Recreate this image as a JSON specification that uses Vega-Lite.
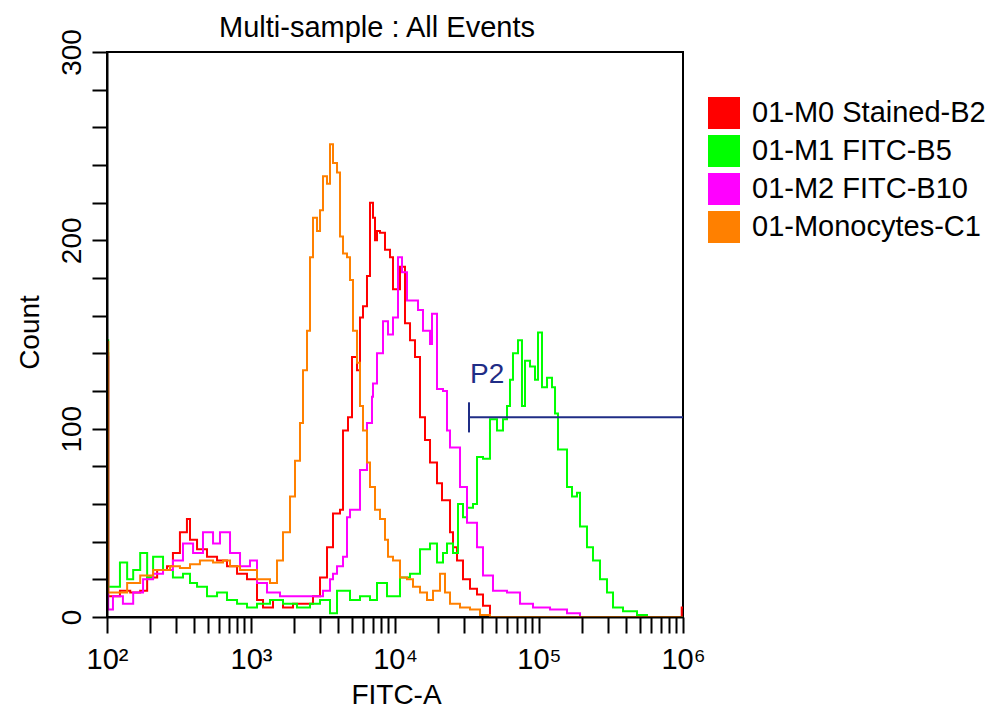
{
  "$schema": "https://vega.github.io/schema/vega-lite/v6.json",
  "width": 576,
  "height": 565,
  "autosize": "none",
  "padding": {"left": 107, "top": 52, "right": 315, "bottom": 94},
  "background": "white",
  "title": {"text": "Multi-sample : All Events", "fontSize": 29, "font": "Liberation Sans", "fontWeight": "normal", "color": "black", "anchor": "middle", "frame": "group", "dx": -18, "offset": 0, "dy": 37, "baseline": "alphabetic"},
  "config": {
    "view": {"stroke": "black", "strokeWidth": 2},
    "font": "Liberation Sans"
  },
  "datasets": {
    "hist": [
      {"sample": "01-M0 Stained-B2", "fitc": 100, "count": 140},
      {"sample": "01-M0 Stained-B2", "fitc": 102, "count": 11},
      {"sample": "01-M0 Stained-B2", "fitc": 105, "count": 11},
      {"sample": "01-M0 Stained-B2", "fitc": 123, "count": 14},
      {"sample": "01-M0 Stained-B2", "fitc": 145, "count": 13},
      {"sample": "01-M0 Stained-B2", "fitc": 170, "count": 14},
      {"sample": "01-M0 Stained-B2", "fitc": 190, "count": 21},
      {"sample": "01-M0 Stained-B2", "fitc": 223, "count": 25},
      {"sample": "01-M0 Stained-B2", "fitc": 261, "count": 27},
      {"sample": "01-M0 Stained-B2", "fitc": 287, "count": 34},
      {"sample": "01-M0 Stained-B2", "fitc": 321, "count": 45},
      {"sample": "01-M0 Stained-B2", "fitc": 359, "count": 52},
      {"sample": "01-M0 Stained-B2", "fitc": 377, "count": 41},
      {"sample": "01-M0 Stained-B2", "fitc": 422, "count": 36},
      {"sample": "01-M0 Stained-B2", "fitc": 495, "count": 32},
      {"sample": "01-M0 Stained-B2", "fitc": 581, "count": 30},
      {"sample": "01-M0 Stained-B2", "fitc": 681, "count": 27},
      {"sample": "01-M0 Stained-B2", "fitc": 800, "count": 23},
      {"sample": "01-M0 Stained-B2", "fitc": 938, "count": 20},
      {"sample": "01-M0 Stained-B2", "fitc": 1101, "count": 9},
      {"sample": "01-M0 Stained-B2", "fitc": 1212, "count": 5},
      {"sample": "01-M0 Stained-B2", "fitc": 1422, "count": 9},
      {"sample": "01-M0 Stained-B2", "fitc": 1668, "count": 5},
      {"sample": "01-M0 Stained-B2", "fitc": 1957, "count": 7},
      {"sample": "01-M0 Stained-B2", "fitc": 2695, "count": 11},
      {"sample": "01-M0 Stained-B2", "fitc": 3015, "count": 21},
      {"sample": "01-M0 Stained-B2", "fitc": 3372, "count": 37},
      {"sample": "01-M0 Stained-B2", "fitc": 3711, "count": 55},
      {"sample": "01-M0 Stained-B2", "fitc": 4151, "count": 57},
      {"sample": "01-M0 Stained-B2", "fitc": 4355, "count": 99},
      {"sample": "01-M0 Stained-B2", "fitc": 4716, "count": 106},
      {"sample": "01-M0 Stained-B2", "fitc": 5028, "count": 138},
      {"sample": "01-M0 Stained-B2", "fitc": 5446, "count": 131},
      {"sample": "01-M0 Stained-B2", "fitc": 5714, "count": 159},
      {"sample": "01-M0 Stained-B2", "fitc": 5995, "count": 165},
      {"sample": "01-M0 Stained-B2", "fitc": 6390, "count": 181},
      {"sample": "01-M0 Stained-B2", "fitc": 6705, "count": 220},
      {"sample": "01-M0 Stained-B2", "fitc": 7034, "count": 212},
      {"sample": "01-M0 Stained-B2", "fitc": 7263, "count": 200},
      {"sample": "01-M0 Stained-B2", "fitc": 7499, "count": 205},
      {"sample": "01-M0 Stained-B2", "fitc": 7868, "count": 204},
      {"sample": "01-M0 Stained-B2", "fitc": 8522, "count": 195},
      {"sample": "01-M0 Stained-B2", "fitc": 9233, "count": 191},
      {"sample": "01-M0 Stained-B2", "fitc": 9685, "count": 174},
      {"sample": "01-M0 Stained-B2", "fitc": 10832, "count": 186},
      {"sample": "01-M0 Stained-B2", "fitc": 11733, "count": 156},
      {"sample": "01-M0 Stained-B2", "fitc": 12714, "count": 147},
      {"sample": "01-M0 Stained-B2", "fitc": 13768, "count": 138},
      {"sample": "01-M0 Stained-B2", "fitc": 14915, "count": 106},
      {"sample": "01-M0 Stained-B2", "fitc": 16156, "count": 94},
      {"sample": "01-M0 Stained-B2", "fitc": 17504, "count": 82},
      {"sample": "01-M0 Stained-B2", "fitc": 19573, "count": 71},
      {"sample": "01-M0 Stained-B2", "fitc": 21203, "count": 62},
      {"sample": "01-M0 Stained-B2", "fitc": 24097, "count": 45},
      {"sample": "01-M0 Stained-B2", "fitc": 25283, "count": 37},
      {"sample": "01-M0 Stained-B2", "fitc": 26961, "count": 30},
      {"sample": "01-M0 Stained-B2", "fitc": 29660, "count": 20},
      {"sample": "01-M0 Stained-B2", "fitc": 33177, "count": 15},
      {"sample": "01-M0 Stained-B2", "fitc": 37113, "count": 12},
      {"sample": "01-M0 Stained-B2", "fitc": 40840, "count": 6},
      {"sample": "01-M0 Stained-B2", "fitc": 45660, "count": 0},
      {"sample": "01-M0 Stained-B2", "fitc": 980000, "count": 5},
      {"sample": "01-M0 Stained-B2", "fitc": 1000000, "count": 5},

      {"sample": "01-M1 FITC-B5", "fitc": 100, "count": 147},
      {"sample": "01-M1 FITC-B5", "fitc": 102, "count": 16},
      {"sample": "01-M1 FITC-B5", "fitc": 123, "count": 29},
      {"sample": "01-M1 FITC-B5", "fitc": 138, "count": 20},
      {"sample": "01-M1 FITC-B5", "fitc": 152, "count": 25},
      {"sample": "01-M1 FITC-B5", "fitc": 170, "count": 34},
      {"sample": "01-M1 FITC-B5", "fitc": 190, "count": 21},
      {"sample": "01-M1 FITC-B5", "fitc": 209, "count": 32},
      {"sample": "01-M1 FITC-B5", "fitc": 245, "count": 25},
      {"sample": "01-M1 FITC-B5", "fitc": 287, "count": 21},
      {"sample": "01-M1 FITC-B5", "fitc": 337, "count": 23},
      {"sample": "01-M1 FITC-B5", "fitc": 377, "count": 18},
      {"sample": "01-M1 FITC-B5", "fitc": 422, "count": 16},
      {"sample": "01-M1 FITC-B5", "fitc": 495, "count": 11},
      {"sample": "01-M1 FITC-B5", "fitc": 581, "count": 13},
      {"sample": "01-M1 FITC-B5", "fitc": 681, "count": 9},
      {"sample": "01-M1 FITC-B5", "fitc": 800, "count": 7},
      {"sample": "01-M1 FITC-B5", "fitc": 938, "count": 5},
      {"sample": "01-M1 FITC-B5", "fitc": 1101, "count": 7},
      {"sample": "01-M1 FITC-B5", "fitc": 1355, "count": 9},
      {"sample": "01-M1 FITC-B5", "fitc": 1668, "count": 7},
      {"sample": "01-M1 FITC-B5", "fitc": 2086, "count": 5},
      {"sample": "01-M1 FITC-B5", "fitc": 2569, "count": 7},
      {"sample": "01-M1 FITC-B5", "fitc": 3015, "count": 9},
      {"sample": "01-M1 FITC-B5", "fitc": 3537, "count": 2},
      {"sample": "01-M1 FITC-B5", "fitc": 3957, "count": 14},
      {"sample": "01-M1 FITC-B5", "fitc": 4870, "count": 9},
      {"sample": "01-M1 FITC-B5", "fitc": 5714, "count": 11},
      {"sample": "01-M1 FITC-B5", "fitc": 6705, "count": 9},
      {"sample": "01-M1 FITC-B5", "fitc": 7499, "count": 18},
      {"sample": "01-M1 FITC-B5", "fitc": 8799, "count": 11},
      {"sample": "01-M1 FITC-B5", "fitc": 10832, "count": 21},
      {"sample": "01-M1 FITC-B5", "fitc": 12714, "count": 23},
      {"sample": "01-M1 FITC-B5", "fitc": 14915, "count": 36},
      {"sample": "01-M1 FITC-B5", "fitc": 17504, "count": 39},
      {"sample": "01-M1 FITC-B5", "fitc": 19573, "count": 29},
      {"sample": "01-M1 FITC-B5", "fitc": 21544, "count": 34},
      {"sample": "01-M1 FITC-B5", "fitc": 22967, "count": 39},
      {"sample": "01-M1 FITC-B5", "fitc": 25283, "count": 34},
      {"sample": "01-M1 FITC-B5", "fitc": 27384, "count": 60},
      {"sample": "01-M1 FITC-B5", "fitc": 29660, "count": 53},
      {"sample": "01-M1 FITC-B5", "fitc": 31623, "count": 58},
      {"sample": "01-M1 FITC-B5", "fitc": 34805, "count": 60},
      {"sample": "01-M1 FITC-B5", "fitc": 37113, "count": 85},
      {"sample": "01-M1 FITC-B5", "fitc": 40840, "count": 84},
      {"sample": "01-M1 FITC-B5", "fitc": 45660, "count": 105},
      {"sample": "01-M1 FITC-B5", "fitc": 51090, "count": 99},
      {"sample": "01-M1 FITC-B5", "fitc": 56230, "count": 105},
      {"sample": "01-M1 FITC-B5", "fitc": 59950, "count": 112},
      {"sample": "01-M1 FITC-B5", "fitc": 62890, "count": 126},
      {"sample": "01-M1 FITC-B5", "fitc": 65970, "count": 140},
      {"sample": "01-M1 FITC-B5", "fitc": 71490, "count": 147},
      {"sample": "01-M1 FITC-B5", "fitc": 76170, "count": 112},
      {"sample": "01-M1 FITC-B5", "fitc": 79950, "count": 136},
      {"sample": "01-M1 FITC-B5", "fitc": 86600, "count": 133},
      {"sample": "01-M1 FITC-B5", "fitc": 93800, "count": 126},
      {"sample": "01-M1 FITC-B5", "fitc": 98420, "count": 151},
      {"sample": "01-M1 FITC-B5", "fitc": 104900, "count": 122},
      {"sample": "01-M1 FITC-B5", "fitc": 113700, "count": 127},
      {"sample": "01-M1 FITC-B5", "fitc": 123100, "count": 122},
      {"sample": "01-M1 FITC-B5", "fitc": 129200, "count": 108},
      {"sample": "01-M1 FITC-B5", "fitc": 135500, "count": 89},
      {"sample": "01-M1 FITC-B5", "fitc": 146800, "count": 89},
      {"sample": "01-M1 FITC-B5", "fitc": 156500, "count": 69},
      {"sample": "01-M1 FITC-B5", "fitc": 169500, "count": 64},
      {"sample": "01-M1 FITC-B5", "fitc": 183600, "count": 66},
      {"sample": "01-M1 FITC-B5", "fitc": 192600, "count": 48},
      {"sample": "01-M1 FITC-B5", "fitc": 215400, "count": 37},
      {"sample": "01-M1 FITC-B5", "fitc": 237100, "count": 30},
      {"sample": "01-M1 FITC-B5", "fitc": 265200, "count": 20},
      {"sample": "01-M1 FITC-B5", "fitc": 296600, "count": 13},
      {"sample": "01-M1 FITC-B5", "fitc": 326600, "count": 5},
      {"sample": "01-M1 FITC-B5", "fitc": 383100, "count": 3},
      {"sample": "01-M1 FITC-B5", "fitc": 479200, "count": 1},
      {"sample": "01-M1 FITC-B5", "fitc": 562300, "count": 0},
      {"sample": "01-M1 FITC-B5", "fitc": 1000000, "count": 0},

      {"sample": "01-M2 FITC-B10", "fitc": 100, "count": 138},
      {"sample": "01-M2 FITC-B10", "fitc": 102, "count": 4},
      {"sample": "01-M2 FITC-B10", "fitc": 110, "count": 11},
      {"sample": "01-M2 FITC-B10", "fitc": 129, "count": 7},
      {"sample": "01-M2 FITC-B10", "fitc": 152, "count": 13},
      {"sample": "01-M2 FITC-B10", "fitc": 178, "count": 20},
      {"sample": "01-M2 FITC-B10", "fitc": 209, "count": 23},
      {"sample": "01-M2 FITC-B10", "fitc": 245, "count": 25},
      {"sample": "01-M2 FITC-B10", "fitc": 287, "count": 30},
      {"sample": "01-M2 FITC-B10", "fitc": 337, "count": 39},
      {"sample": "01-M2 FITC-B10", "fitc": 396, "count": 34},
      {"sample": "01-M2 FITC-B10", "fitc": 464, "count": 45},
      {"sample": "01-M2 FITC-B10", "fitc": 545, "count": 39},
      {"sample": "01-M2 FITC-B10", "fitc": 609, "count": 45},
      {"sample": "01-M2 FITC-B10", "fitc": 715, "count": 34},
      {"sample": "01-M2 FITC-B10", "fitc": 839, "count": 27},
      {"sample": "01-M2 FITC-B10", "fitc": 984, "count": 30},
      {"sample": "01-M2 FITC-B10", "fitc": 1101, "count": 18},
      {"sample": "01-M2 FITC-B10", "fitc": 1292, "count": 13},
      {"sample": "01-M2 FITC-B10", "fitc": 1590, "count": 11},
      {"sample": "01-M2 FITC-B10", "fitc": 1957, "count": 11},
      {"sample": "01-M2 FITC-B10", "fitc": 2569, "count": 11},
      {"sample": "01-M2 FITC-B10", "fitc": 3162, "count": 14},
      {"sample": "01-M2 FITC-B10", "fitc": 3537, "count": 20},
      {"sample": "01-M2 FITC-B10", "fitc": 3711, "count": 23},
      {"sample": "01-M2 FITC-B10", "fitc": 3957, "count": 27},
      {"sample": "01-M2 FITC-B10", "fitc": 4355, "count": 32},
      {"sample": "01-M2 FITC-B10", "fitc": 4642, "count": 53},
      {"sample": "01-M2 FITC-B10", "fitc": 4870, "count": 57},
      {"sample": "01-M2 FITC-B10", "fitc": 5714, "count": 78},
      {"sample": "01-M2 FITC-B10", "fitc": 6390, "count": 103},
      {"sample": "01-M2 FITC-B10", "fitc": 6922, "count": 117},
      {"sample": "01-M2 FITC-B10", "fitc": 7034, "count": 124},
      {"sample": "01-M2 FITC-B10", "fitc": 7499, "count": 140},
      {"sample": "01-M2 FITC-B10", "fitc": 8254, "count": 157},
      {"sample": "01-M2 FITC-B10", "fitc": 8941, "count": 150},
      {"sample": "01-M2 FITC-B10", "fitc": 9685, "count": 159},
      {"sample": "01-M2 FITC-B10", "fitc": 10491, "count": 191},
      {"sample": "01-M2 FITC-B10", "fitc": 11184, "count": 183},
      {"sample": "01-M2 FITC-B10", "fitc": 12115, "count": 168},
      {"sample": "01-M2 FITC-B10", "fitc": 13335, "count": 168},
      {"sample": "01-M2 FITC-B10", "fitc": 14446, "count": 163},
      {"sample": "01-M2 FITC-B10", "fitc": 15647, "count": 152},
      {"sample": "01-M2 FITC-B10", "fitc": 17504, "count": 145},
      {"sample": "01-M2 FITC-B10", "fitc": 18072, "count": 161},
      {"sample": "01-M2 FITC-B10", "fitc": 19573, "count": 121},
      {"sample": "01-M2 FITC-B10", "fitc": 21544, "count": 120},
      {"sample": "01-M2 FITC-B10", "fitc": 22967, "count": 99},
      {"sample": "01-M2 FITC-B10", "fitc": 24097, "count": 90},
      {"sample": "01-M2 FITC-B10", "fitc": 28276, "count": 69},
      {"sample": "01-M2 FITC-B10", "fitc": 31623, "count": 50},
      {"sample": "01-M2 FITC-B10", "fitc": 37113, "count": 37},
      {"sample": "01-M2 FITC-B10", "fitc": 40840, "count": 22},
      {"sample": "01-M2 FITC-B10", "fitc": 47920, "count": 14},
      {"sample": "01-M2 FITC-B10", "fitc": 59950, "count": 13},
      {"sample": "01-M2 FITC-B10", "fitc": 73830, "count": 7},
      {"sample": "01-M2 FITC-B10", "fitc": 90850, "count": 5},
      {"sample": "01-M2 FITC-B10", "fitc": 119300, "count": 4},
      {"sample": "01-M2 FITC-B10", "fitc": 156500, "count": 2},
      {"sample": "01-M2 FITC-B10", "fitc": 192600, "count": 0},
      {"sample": "01-M2 FITC-B10", "fitc": 1000000, "count": 0},

      {"sample": "01-Monocytes-C1", "fitc": 100, "count": 146},
      {"sample": "01-Monocytes-C1", "fitc": 102, "count": 13},
      {"sample": "01-Monocytes-C1", "fitc": 138, "count": 18},
      {"sample": "01-Monocytes-C1", "fitc": 170, "count": 22},
      {"sample": "01-Monocytes-C1", "fitc": 209, "count": 25},
      {"sample": "01-Monocytes-C1", "fitc": 274, "count": 27},
      {"sample": "01-Monocytes-C1", "fitc": 321, "count": 26},
      {"sample": "01-Monocytes-C1", "fitc": 377, "count": 28},
      {"sample": "01-Monocytes-C1", "fitc": 442, "count": 30},
      {"sample": "01-Monocytes-C1", "fitc": 545, "count": 29},
      {"sample": "01-Monocytes-C1", "fitc": 639, "count": 30},
      {"sample": "01-Monocytes-C1", "fitc": 715, "count": 27},
      {"sample": "01-Monocytes-C1", "fitc": 839, "count": 25},
      {"sample": "01-Monocytes-C1", "fitc": 1101, "count": 20},
      {"sample": "01-Monocytes-C1", "fitc": 1355, "count": 18},
      {"sample": "01-Monocytes-C1", "fitc": 1516, "count": 30},
      {"sample": "01-Monocytes-C1", "fitc": 1668, "count": 45},
      {"sample": "01-Monocytes-C1", "fitc": 1866, "count": 64},
      {"sample": "01-Monocytes-C1", "fitc": 2021, "count": 83},
      {"sample": "01-Monocytes-C1", "fitc": 2189, "count": 103},
      {"sample": "01-Monocytes-C1", "fitc": 2297, "count": 131},
      {"sample": "01-Monocytes-C1", "fitc": 2449, "count": 152},
      {"sample": "01-Monocytes-C1", "fitc": 2569, "count": 191},
      {"sample": "01-Monocytes-C1", "fitc": 2695, "count": 212},
      {"sample": "01-Monocytes-C1", "fitc": 2873, "count": 205},
      {"sample": "01-Monocytes-C1", "fitc": 3015, "count": 216},
      {"sample": "01-Monocytes-C1", "fitc": 3162, "count": 234},
      {"sample": "01-Monocytes-C1", "fitc": 3372, "count": 230},
      {"sample": "01-Monocytes-C1", "fitc": 3537, "count": 251},
      {"sample": "01-Monocytes-C1", "fitc": 3711, "count": 241},
      {"sample": "01-Monocytes-C1", "fitc": 3957, "count": 236},
      {"sample": "01-Monocytes-C1", "fitc": 4151, "count": 202},
      {"sample": "01-Monocytes-C1", "fitc": 4355, "count": 193},
      {"sample": "01-Monocytes-C1", "fitc": 4642, "count": 191},
      {"sample": "01-Monocytes-C1", "fitc": 4870, "count": 179},
      {"sample": "01-Monocytes-C1", "fitc": 5109, "count": 152},
      {"sample": "01-Monocytes-C1", "fitc": 5446, "count": 135},
      {"sample": "01-Monocytes-C1", "fitc": 5714, "count": 112},
      {"sample": "01-Monocytes-C1", "fitc": 5995, "count": 99},
      {"sample": "01-Monocytes-C1", "fitc": 6390, "count": 82},
      {"sample": "01-Monocytes-C1", "fitc": 6705, "count": 69},
      {"sample": "01-Monocytes-C1", "fitc": 7263, "count": 57},
      {"sample": "01-Monocytes-C1", "fitc": 7868, "count": 52},
      {"sample": "01-Monocytes-C1", "fitc": 8522, "count": 41},
      {"sample": "01-Monocytes-C1", "fitc": 8941, "count": 32},
      {"sample": "01-Monocytes-C1", "fitc": 9685, "count": 30},
      {"sample": "01-Monocytes-C1", "fitc": 10832, "count": 21},
      {"sample": "01-Monocytes-C1", "fitc": 12115, "count": 20},
      {"sample": "01-Monocytes-C1", "fitc": 13335, "count": 16},
      {"sample": "01-Monocytes-C1", "fitc": 14915, "count": 13},
      {"sample": "01-Monocytes-C1", "fitc": 16681, "count": 9},
      {"sample": "01-Monocytes-C1", "fitc": 18365, "count": 14},
      {"sample": "01-Monocytes-C1", "fitc": 20535, "count": 23},
      {"sample": "01-Monocytes-C1", "fitc": 22248, "count": 13},
      {"sample": "01-Monocytes-C1", "fitc": 24097, "count": 7},
      {"sample": "01-Monocytes-C1", "fitc": 28276, "count": 5},
      {"sample": "01-Monocytes-C1", "fitc": 33177, "count": 4},
      {"sample": "01-Monocytes-C1", "fitc": 38930, "count": 1},
      {"sample": "01-Monocytes-C1", "fitc": 45660, "count": 0},
      {"sample": "01-Monocytes-C1", "fitc": 1000000, "count": 0}
    ],
    "gate": [
      {"name": "P2", "start": 32660, "end": 1000000, "level": 106, "low": 98, "high": 114}
    ]
  },
  "layer": [
    {
      "data": {"name": "hist"},
      "mark": {"type": "line", "interpolate": "step-after", "strokeWidth": 2, "clip": true},
      "encoding": {
        "x": {
          "field": "fitc", "type": "quantitative",
          "scale": {"type": "log", "domain": [100, 1000000], "nice": false},
          "axis": {
            "title": "FITC-A",
            "values": [100,200,300,400,500,600,700,800,900,1000,2000,3000,4000,5000,6000,7000,8000,9000,10000,20000,30000,40000,50000,60000,70000,80000,90000,100000,200000,300000,400000,500000,600000,700000,800000,900000,1000000],
            "tickCount": 100,
            "labelExpr": "datum.value == 100 ? '10²' : datum.value == 1000 ? '10³' : datum.value == 10000 ? '10⁴' : datum.value == 100000 ? '10⁵' : datum.value == 1000000 ? '10⁶' : ''",
            "labelOverlap": false,
            "labelFlush": false,
            "labelFont": "Liberation Sans",
            "labelFontSize": 29,
            "labelColor": "black",
            "labelBaseline": "alphabetic",
            "labelPadding": 35,
            "tickSize": 16,
            "tickWidth": 2,
            "tickColor": "black",
            "domainColor": "black",
            "domainWidth": 2,
            "grid": false,
            "zindex": 1,
            "titleFont": "Liberation Sans",
            "titleFontSize": 28,
            "titleFontWeight": "normal",
            "titleColor": "black",
            "titleX": 289,
            "titleY": 86,
            "titleBaseline": "alphabetic",
            "titleAlign": "center",
            "encode": {"ticks": {"update": {"y2": {"signal": "indexof([100,1000,10000,100000,1000000], datum.value) >= 0 ? 16 : 10"}}}}
          }
        },
        "y": {
          "field": "count", "type": "quantitative",
          "scale": {"domain": [0, 300], "nice": false},
          "axis": {
            "title": "Count",
            "values": [0,20,40,60,80,100,120,140,160,180,200,220,240,260,280,300],
            "tickCount": 100,
            "labelExpr": "datum.value % 100 === 0 ? datum.label : ''",
            "labelOverlap": false,
            "labelFlush": false,
            "labelAngle": 270,
            "labelAlign": "center",
            "labelBaseline": "alphabetic",
            "labelPadding": 12,
            "labelFont": "Liberation Sans",
            "labelFontSize": 28,
            "labelColor": "black",
            "tickSize": 15,
            "tickWidth": 2,
            "tickColor": "black",
            "domainColor": "black",
            "domainWidth": 2,
            "grid": false,
            "zindex": 1,
            "titleFont": "Liberation Sans",
            "titleFontSize": 28,
            "titleFontWeight": "normal",
            "titleColor": "black",
            "titleAngle": 270,
            "titleX": -77,
            "titleY": 280,
            "titleAlign": "center",
            "titleBaseline": "middle",
            "encode": {"ticks": {"update": {"x2": {"signal": "datum.value % 100 === 0 ? -15 : -10"}}}}
          }
        },
        "color": {
          "field": "sample", "type": "nominal",
          "scale": {"domain": ["01-M0 Stained-B2", "01-M1 FITC-B5", "01-M2 FITC-B10", "01-Monocytes-C1"], "range": ["#ff0000", "#00ff00", "#ff00ff", "#ff8000"]},
          "legend": {
            "orient": "none",
            "legendX": 601,
            "legendY": 45,
            "title": null,
            "symbolType": "square",
            "symbolSize": 900,
            "symbolStrokeWidth": 2,
            "symbolStrokeColor": "black",
            "labelFont": "Liberation Sans",
            "labelFontSize": 29,
            "labelColor": "black",
            "labelOffset": 12,
            "labelLimit": 400,
            "rowPadding": 0,
            "encode": {"symbols": {"update": {"fill": {"signal": "scale('color', datum.value)"}, "stroke": {"value": "black"}, "strokeWidth": {"value": 2}, "opacity": {"value": 1}, "fillOpacity": {"value": 1}}}}
          }
        }
      }
    },
    {
      "data": {"name": "gate"},
      "mark": {"type": "rule", "color": "#1f2d86", "strokeWidth": 2},
      "encoding": {
        "x": {"field": "start", "type": "quantitative"},
        "x2": {"field": "end"},
        "y": {"field": "level", "type": "quantitative"}
      }
    },
    {
      "data": {"name": "gate"},
      "mark": {"type": "rule", "color": "#1f2d86", "strokeWidth": 2},
      "encoding": {
        "x": {"field": "start", "type": "quantitative"},
        "y": {"field": "low", "type": "quantitative"},
        "y2": {"field": "high"}
      }
    },
    {
      "data": {"name": "gate"},
      "mark": {"type": "text", "color": "#1f2d86", "font": "Liberation Sans", "fontSize": 28, "align": "left", "baseline": "alphabetic", "dx": 1, "dy": -34},
      "encoding": {
        "x": {"field": "start", "type": "quantitative"},
        "y": {"field": "level", "type": "quantitative"},
        "text": {"field": "name"}
      }
    }
  ]
}
